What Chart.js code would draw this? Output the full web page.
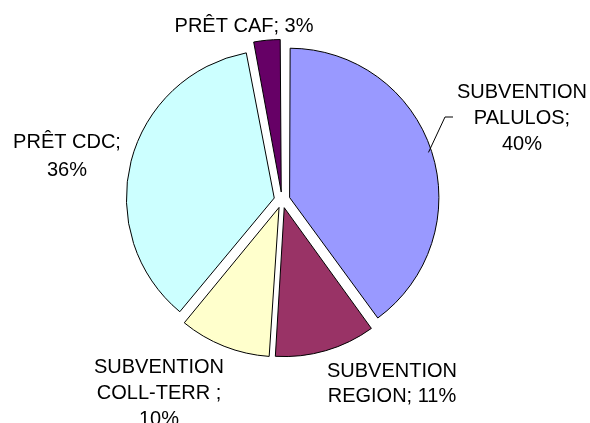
<!DOCTYPE html>
<html>
<head>
<meta charset="utf-8">
<script src="https://cdn.jsdelivr.net/npm/chart.js@4/dist/chart.umd.min.js"></script>
<style>
  html, body { margin: 0; padding: 0; background: #ffffff; }
  #wrap { width: 590px; height: 423px; position: relative; }
</style>
</head>
<body>
<div id="wrap"><canvas id="c" width="590" height="423"></canvas></div>
<script>
// ---- data ----
const categories = ['SUBVENTION PALULOS', 'SUBVENTION REGION', 'SUBVENTION COLL-TERR', 'PRÊT CDC', 'PRÊT CAF'];
const values = [40, 11, 10, 36, 3];
const labelLines = [
  ['SUBVENTION', 'PALULOS;', '40%'],
  ['SUBVENTION', 'REGION; 11%'],
  ['SUBVENTION', 'COLL-TERR ;', '10%'],
  ['PRÊT CDC;', '36%'],
  ['PRÊT CAF; 3%']
];
const colors = ['#9999FF', '#993366', '#FFFFCC', '#CCFFFF', '#660066'];

// ---- label layout (text anchor centre x, first baseline y, line step) ----
const labelLayout = [
  { x: 522, y: 98, step: 26, leader: true },
  { x: 392, y: 377, step: 25 },
  { x: 159, y: 373, step: 26 },
  { x: 67, y: 148, step: 28 },
  { x: 244, y: 32, step: 26 }
];

const labelPlugin = {
  id: 'sliceLabels',
  afterDatasetsDraw(chart) {
    const ctx = chart.ctx;
    const meta = chart.getDatasetMeta(0);
    ctx.save();
    ctx.fillStyle = '#000000';
    ctx.font = '20px "Liberation Sans", Arial, sans-serif';
    ctx.textAlign = 'center';
    ctx.textBaseline = 'alphabetic';
    labelLines.forEach((lines, i) => {
      const L = labelLayout[i];
      lines.forEach((t, k) => ctx.fillText(t, L.x, L.y + k * L.step));
      if (L.leader) {
        const arc = meta.data[i];
        const off = (arc.options.offset || 0) / 4;
        const mid = (arc.startAngle + arc.endAngle) / 2;
        const px = arc.x + Math.cos(mid) * (off + arc.outerRadius);
        const py = arc.y + Math.sin(mid) * (off + arc.outerRadius);
        ctx.strokeStyle = '#000000';
        ctx.lineWidth = 1;
        ctx.beginPath();
        ctx.moveTo(px, py);
        ctx.lineTo(445, L.y + 19);
        ctx.lineTo(453, L.y + 19);
        ctx.stroke();
      }
    });
    ctx.restore();
  }
};

new Chart(document.getElementById('c'), {
  type: 'pie',
  data: {
    labels: categories,
    datasets: [{
      data: values,
      backgroundColor: colors,
      borderColor: '#000000',
      borderWidth: 1,
      borderJoinStyle: 'miter',
      offset: 32,
      hoverOffset: 0
    }]
  },
  options: {
    responsive: false,
    animation: false,
    radius: 146,
    layout: { padding: { left: 0, right: 26, top: 0, bottom: 23 } },
    plugins: {
      legend: { display: false },
      tooltip: { enabled: false }
    },
    events: []
  },
  plugins: [labelPlugin]
});
</script>
</body>
</html>
